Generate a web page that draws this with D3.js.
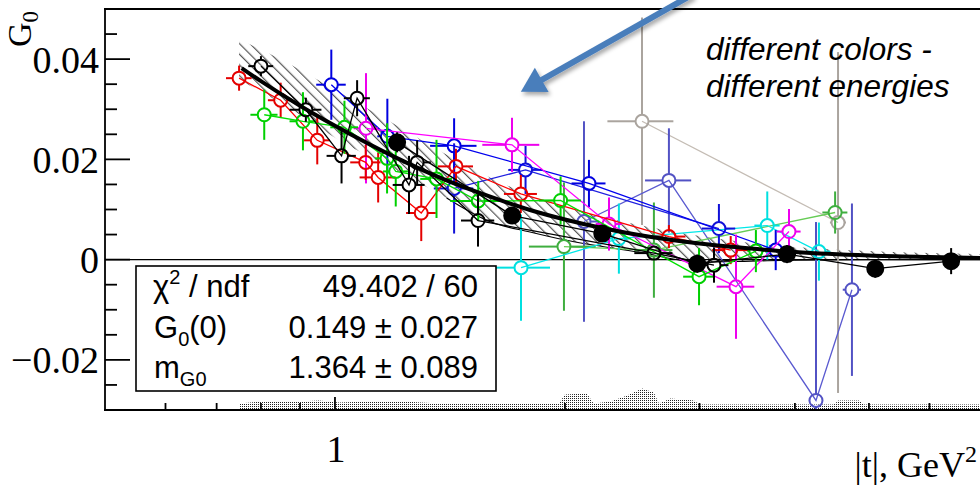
<!DOCTYPE html>
<html><head><meta charset="utf-8">
<script src="https://cdn.jsdelivr.net/npm/d3@7"></script>
<style>html,body{margin:0;padding:0;background:#fff;} svg{display:block;}</style>
</head><body>
<svg id="chart" width="980" height="486"></svg>
<script>
// ---------------- DATA ----------------
// each point: [|t| (GeV^2), G0, x-error, y-error]
const redPts = [
  [0.749, 0.0362, 0.029, 0.0025],
  [0.849, 0.0318, 0.032, 0.0035],
  [0.948, 0.0238, 0.037, 0.0048],
  [1.097, 0.0194, 0.050, 0.0035],
  [1.139, 0.0164, 0.062, 0.0050],
  [1.297, 0.0093, 0.058, 0.0056],
  [1.440, 0.0186, 0.076, 0.0035],
  [1.751, 0.0131, 0.087, 0.0038],
  [2.736, 0.0046, 0.140, 0.0023],
  [3.296, 0.0019, 0.180, 0.0028]
];
const greenPts = [
  [0.808, 0.0289, 0.033, 0.0050],
  [0.908, 0.0276, 0.036, 0.0058],
  [1.029, 0.0264, 0.043, 0.0053],
  [1.170, 0.0202, 0.042, 0.0070],
  [1.201, 0.0176, 0.045, 0.0070],
  [1.358, 0.0161, 0.065, 0.0078],
  [1.540, 0.0117, 0.125, 0.0040],
  [1.974, 0.0118, 0.125, 0.0048],
  [2.996, -0.0034, 0.140, 0.0057],
  [3.556, 0.0017, 0.090, 0.0042]
];
const midGreenPts = [
  [1.994, 0.0026, 0.200, 0.0128],
  [2.615, 0.0019, 0.150, 0.0095],
  [4.515, 0.0094, 0.170, 0.0042]
];
const blackOpenPts = [
  [0.800, 0.0386, 0.030, 0.0020],
  [0.916, 0.0299, 0.044, 0.0024],
  [1.020, 0.0207, 0.045, 0.0055],
  [1.069, 0.0322, 0.042, 0.0036],
  [1.250, 0.0149, 0.060, 0.0058],
  [1.281, 0.0194, 0.054, 0.0044],
  [1.539, 0.0078, 0.077, 0.0052],
  [2.615, 0.0013, 0.150, 0.0012],
  [3.134, -0.0011, 0.140, 0.0035]
];
const blackFilledPts = [
  [1.206, 0.0234, 0, 0.0020],
  [1.706, 0.0088, 0, 0.0016],
  [2.238, 0.0052, 0, 0.0016],
  [2.980, -0.0008, 0, 0.0018],
  [3.906, 0.0011, 0, 0.0018],
  [5.096, -0.0018, 0, 0.0018],
  [6.405, -0.0003, 0, 0.0026]
];
const blueAPts = [
  [0.989, 0.0349, 0.044, 0.0070],
  [1.171, 0.0246, 0.035, 0.0075],
  [1.432, 0.0227, 0.100, 0.0055],
  [2.150, 0.0152, 0.110, 0.0047],
  [3.775, 0.0019, 0.100, 0.0040]
];
const blueBPts = [
  [1.432, 0.0142, 0.085, 0.0090],
  [1.776, 0.0179, 0.090, 0.0048],
  [3.181, 0.0062, 0.160, 0.0049]
];
const indigoPts = [
  [2.118, 0.0076, 0.100, 0.0200],
  [2.736, 0.0158, 0.190, 0.0104],
  [4.262, -0.0281, 0.090, 0.0356],
  [4.750, -0.0060, 0.130, 0.0172]
];
const magentaPts = [
  [1.098, 0.0262, 0.040, 0.0110],
  [1.705, 0.0229, 0.146, 0.0054],
  [2.284, 0.0071, 0.090, 0.0053],
  [3.349, -0.0054, 0.190, 0.0104],
  [3.929, 0.0056, 0.140, 0.0045]
];
const cyanPts = [
  [1.752, -0.0016, 0.160, 0.0106],
  [2.353, 0.0042, 0.085, 0.0070],
  [3.680, 0.0068, 0.140, 0.0068],
  [4.300, 0.0016, 0.150, 0.0058]
];
const grayPts = [
  [2.523, 0.0276, 0.250, 0.0207],
  [4.555, 0.0074, 0.110, 0.0340]
];

// fit curve and its error band
const fitT  = [0.755, 0.8, 0.9, 1.0, 1.2, 1.4, 1.6, 1.8, 2.0, 2.5, 3.0, 3.5, 4.0, 5.0, 6.0, 7.0];
const fitG  = [0.0382, 0.0356, 0.0307, 0.0267, 0.0204, 0.0158, 0.0125, 0.0099, 0.0080, 0.0049, 0.0032, 0.0022, 0.0015, 0.0008, 0.0005, 0.0003];
const bandT  = [0.749, 0.8, 0.9, 1.0, 1.2, 1.4, 1.6, 1.8, 2.0, 2.5, 3.0, 3.5, 4.0, 5.0, 6.0, 7.0];
const bandHi = [0.0439, 0.0419, 0.0379, 0.0339, 0.0269, 0.0209, 0.0163, 0.0129, 0.0105, 0.0069, 0.0047, 0.0033, 0.0025, 0.0017, 0.0013, 0.0011];
const bandLo = [0.0359, 0.0335, 0.0289, 0.0243, 0.0179, 0.0123, 0.0075, 0.0055, 0.0039, 0.0015, -0.0005, -0.0003, -0.0001, 0.0000, 0.0000, 0.0000];

// stippled distribution along the bottom of the frame
const stipT = [0.749, 0.80, 0.897, 0.953, 1.012, 1.108, 1.231, 1.368, 1.963, 2.0, 2.137, 2.18, 2.296, 2.412, 2.523, 2.614, 2.655, 2.75, 2.95, 3.0, 4.5, 4.56, 4.85, 4.93, 7.0];
const stipG = [-0.0287, -0.0283, -0.0283, -0.0281, -0.0285, -0.0283, -0.0283, -0.0287, -0.0287, -0.0269, -0.0267, -0.0287, -0.0283, -0.0271, -0.0257, -0.0265, -0.0287, -0.0277, -0.0281, -0.0289, -0.0289, -0.0281, -0.0281, -0.0289, -0.0289];

const xMajorTicks = [1];
const xTickLabels = ["1"];
const xMinorTicks = [0.6, 0.7, 0.8, 0.9, 2, 3, 4, 5, 6];
const yMajorTicks = [-0.02, 0, 0.02, 0.04];
const yTickLabels = ["\u22120.02", "0", "0.02", "0.04"];
const yMinorTicks = [-0.025, -0.015, -0.01, -0.005, 0.005, 0.01, 0.015, 0.025, 0.03, 0.035, 0.045];

const statValues = ["49.402 / 60", "0.149 \u00b1 0.027", "1.364 \u00b1 0.089"];

const arrowFrom = [2.94, 0.0529];
const arrowTo   = [1.751, 0.0335];

// ---------------- DRAWING ----------------
const svg = d3.select('#chart');
const x = d3.scaleLog().domain([0.5, 7]).range([105, 980.6]);
const y = d3.scaleLinear().domain([-0.03, 0.05]).range([410, 9]);
const SERIF = "'Liberation Serif','Times New Roman',Times,serif";
const SANS = "'Liberation Sans',Arial,Helvetica,sans-serif";

const defs = svg.append('defs');
defs.append('clipPath').attr('id', 'plotClip').append('rect')
  .attr('x', 105).attr('y', 9).attr('width', 876).attr('height', 401);
const hatch = defs.append('pattern').attr('id', 'hatch').attr('patternUnits', 'userSpaceOnUse')
  .attr('width', 7.5).attr('height', 7.5).attr('patternTransform', 'rotate(-45)');
hatch.append('line').attr('x1', 3.5).attr('y1', 0).attr('x2', 3.5).attr('y2', 7.5)
  .attr('stroke', '#000').attr('stroke-width', 0.8);
const dots = defs.append('pattern').attr('id', 'dots').attr('patternUnits', 'userSpaceOnUse')
  .attr('width', 2).attr('height', 2);
dots.append('rect').attr('x', 0).attr('y', 0).attr('width', 1).attr('height', 1).attr('fill', '#222');
const shadow = defs.append('filter').attr('id', 'shadow').attr('x', '-20%').attr('y', '-20%').attr('width', '140%').attr('height', '140%');
shadow.append('feDropShadow').attr('dx', 2).attr('dy', 3).attr('stdDeviation', 2.2)
  .attr('flood-color', '#000').attr('flood-opacity', 0.35);

const plot = svg.append('g').attr('clip-path', 'url(#plotClip)');

// stipple distribution
plot.append('path')
  .datum(stipT.map((t, i) => [t, stipG[i]]))
  .attr('d', d3.area().x(d => x(d[0])).y0(y(-0.03)).y1(d => y(d[1])))
  .attr('fill', 'url(#dots)');

// zero line
plot.append('line').attr('x1', x(0.5)).attr('x2', x(7)).attr('y1', y(0)).attr('y2', y(0))
  .attr('stroke', '#000').attr('stroke-width', 1.3);

// band
const bandData = bandT.map((t, i) => [t, bandLo[i], bandHi[i]]);
plot.append('path').datum(bandData)
  .attr('d', d3.area().curve(d3.curveMonotoneX).x(d => x(d[0])).y0(d => y(d[1])).y1(d => y(d[2])))
  .attr('fill', 'url(#hatch)');
plot.append('path').datum(bandData.filter(d => d[0] >= 1.4))
  .attr('d', d3.line().curve(d3.curveMonotoneX).x(d => x(d[0])).y(d => y(d[1])))
  .attr('fill', 'none').attr('stroke', '#000').attr('stroke-width', 1.1);

function drawSeries(data, color, lineColor, r, filled) {
  const g = plot.append('g');
  g.append('path').datum(data)
    .attr('d', d3.line().x(d => x(d[0])).y(d => y(d[1])))
    .attr('fill', 'none').attr('stroke', lineColor).attr('stroke-width', 1.3);
  const segs = [];
  data.forEach(d => {
    const cx = x(d[0]), cy = y(d[1]);
    if (d[2] > 0) {
      const xl = x(d[0] - d[2]), xh = x(d[0] + d[2]);
      if (cx - r > xl) segs.push([xl, cy, cx - r, cy]);
      if (xh > cx + r) segs.push([cx + r, cy, xh, cy]);
    }
    if (d[3] > 0) {
      const yt = y(d[1] + d[3]), yb = y(d[1] - d[3]);
      if (cy - r > yt) segs.push([cx, yt, cx, cy - r]);
      if (yb > cy + r) segs.push([cx, cy + r, cx, yb]);
    }
  });
  g.selectAll('line.err').data(segs).join('line').attr('class', 'err')
    .attr('x1', s => s[0]).attr('y1', s => s[1]).attr('x2', s => s[2]).attr('y2', s => s[3])
    .attr('stroke', color).attr('stroke-width', 2);
  g.selectAll('circle').data(data).join('circle')
    .attr('cx', d => x(d[0])).attr('cy', d => y(d[1])).attr('r', r)
    .attr('fill', filled ? color : 'none').attr('stroke', color).attr('stroke-width', 2);
}

drawSeries(grayPts, '#aaa49e', '#c4bcb4', 6.5, false);
drawSeries(indigoPts, '#5252c4', '#5a5ad0', 6.5, false);
drawSeries(midGreenPts, '#3fae3f', '#66cc55', 6.5, false);
drawSeries(cyanPts, '#00e0e0', '#00e8e8', 6.5, false);
drawSeries(blueBPts, '#1010d8', '#2020e0', 6.5, false);
drawSeries(blueAPts, '#0000e0', '#0000ee', 6.5, false);
drawSeries(magentaPts, '#ee00ee', '#ff00ff', 6.5, false);
drawSeries(redPts, '#e40000', '#ff0000', 6.5, false);
drawSeries(greenPts, '#00d000', '#00e000', 6.5, false);
drawSeries(blackOpenPts, '#000', '#000', 6.5, false);

// fit curve
plot.append('path').datum(fitT.map((t, i) => [t, fitG[i]]))
  .attr('d', d3.line().curve(d3.curveMonotoneX).x(d => x(d[0])).y(d => y(d[1])))
  .attr('fill', 'none').attr('stroke', '#000').attr('stroke-width', 4);

drawSeries(blackFilledPts, '#000', '#000', 8, true);

// ---------------- AXES / FRAME ----------------
const axis = svg.append('g').attr('stroke', '#000').attr('stroke-width', 1.8);
axis.append('line').attr('x1', 105).attr('x2', 105).attr('y1', 8.5).attr('y2', 410.5);
axis.append('line').attr('x1', 104).attr('x2', 981).attr('y1', 9).attr('y2', 9);
axis.append('line').attr('x1', 104).attr('x2', 981).attr('y1', 410).attr('y2', 410);
axis.selectAll('line.ymaj').data(yMajorTicks).join('line').attr('class', 'ymaj')
  .attr('x1', 105).attr('x2', 130).attr('y1', d => y(d)).attr('y2', d => y(d));
axis.selectAll('line.ymin').data(yMinorTicks).join('line').attr('class', 'ymin')
  .attr('x1', 105).attr('x2', 117).attr('y1', d => y(d)).attr('y2', d => y(d));
axis.selectAll('line.xmaj').data(xMajorTicks).join('line').attr('class', 'xmaj')
  .attr('x1', d => x(d)).attr('x2', d => x(d)).attr('y1', 410).attr('y2', 397);
axis.selectAll('line.xmin').data(xMinorTicks).join('line').attr('class', 'xmin')
  .attr('x1', d => x(d)).attr('x2', d => x(d)).attr('y1', 410).attr('y2', 403);

svg.selectAll('text.ylab').data(yMajorTicks).join('text').attr('class', 'ylab')
  .attr('x', 99).attr('y', d => y(d) + 13.5).attr('text-anchor', 'end')
  .attr('font-family', SERIF).attr('font-size', 38).text((d, i) => yTickLabels[i]);
svg.selectAll('text.xlab').data(xMajorTicks).join('text').attr('class', 'xlab')
  .attr('x', d => x(d) + 1).attr('y', 462).attr('text-anchor', 'middle')
  .attr('font-family', SERIF).attr('font-size', 38).text((d, i) => xTickLabels[i]);

// axis titles
const yt = svg.append('text').attr('transform', 'translate(31,11) rotate(-90)')
  .attr('text-anchor', 'end').attr('font-family', SERIF).attr('font-size', 34);
yt.append('tspan').text('G');
yt.append('tspan').attr('font-size', 23).attr('dy', 7).text('0');

const xt = svg.append('text').attr('x', 977).attr('y', 477).attr('text-anchor', 'end')
  .attr('font-family', SERIF).attr('font-size', 36);
xt.append('tspan').text('|t|, GeV');
xt.append('tspan').attr('font-size', 24).attr('dy', -15).text('2');

// ---------------- STATS BOX ----------------
const sb = svg.append('g');
sb.append('rect').attr('x', 136).attr('y', 266).attr('width', 360).attr('height', 125)
  .attr('fill', '#fff').attr('stroke', '#000').attr('stroke-width', 1.6);
const rowY = [297, 338, 378];
const st = sb.append('g').attr('font-family', SANS).attr('font-size', 31).attr('fill', '#000');
const r1 = st.append('text').attr('x', 153).attr('y', rowY[0]);
r1.append('tspan').text('\u03c7');
r1.append('tspan').attr('font-size', 20).attr('dy', -13).text('2');
r1.append('tspan').attr('dy', 13).text(' / ndf');
const r2 = st.append('text').attr('x', 154).attr('y', rowY[1]);
r2.append('tspan').text('G');
r2.append('tspan').attr('font-size', 20).attr('dy', 8).text('0');
r2.append('tspan').attr('dy', -8).text('(0)');
const r3 = st.append('text').attr('x', 154).attr('y', rowY[2]);
r3.append('tspan').text('m');
r3.append('tspan').attr('font-size', 20).attr('dy', 8).text('G0');
st.selectAll('text.val').data(statValues).join('text').attr('class', 'val')
  .attr('x', 478).attr('y', (d, i) => rowY[i]).attr('text-anchor', 'end').text(d => d);

// ---------------- ANNOTATION ----------------
const ann = svg.append('g').attr('font-family', SANS).attr('font-size', 31.5).attr('font-style', 'italic');
ann.append('text').attr('x', 706).attr('y', 60).text('different colors -');
ann.append('text').attr('x', 706).attr('y', 97).text('different energies');

const ax0 = x(arrowFrom[0]), ay0 = y(arrowFrom[1]), ax1 = x(arrowTo[0]), ay1 = y(arrowTo[1]);
const len = Math.hypot(ax1 - ax0, ay1 - ay0), ux = (ax1 - ax0) / len, uy = (ay1 - ay0) / len;
const headL = 24, headW = 14;
const bx = ax1 - headL * ux, by = ay1 - headL * uy;
const arrow = svg.append('g').attr('filter', 'url(#shadow)');
arrow.append('line').attr('x1', ax0).attr('y1', ay0).attr('x2', bx + 4 * ux).attr('y2', by + 4 * uy)
  .attr('stroke', '#4a7ebb').attr('stroke-width', 6);
arrow.append('path')
  .attr('d', `M${ax1},${ay1}L${bx - headW * uy},${by + headW * ux}L${bx + headW * uy},${by - headW * ux}Z`)
  .attr('fill', '#4a7ebb');
</script>
</body></html>
